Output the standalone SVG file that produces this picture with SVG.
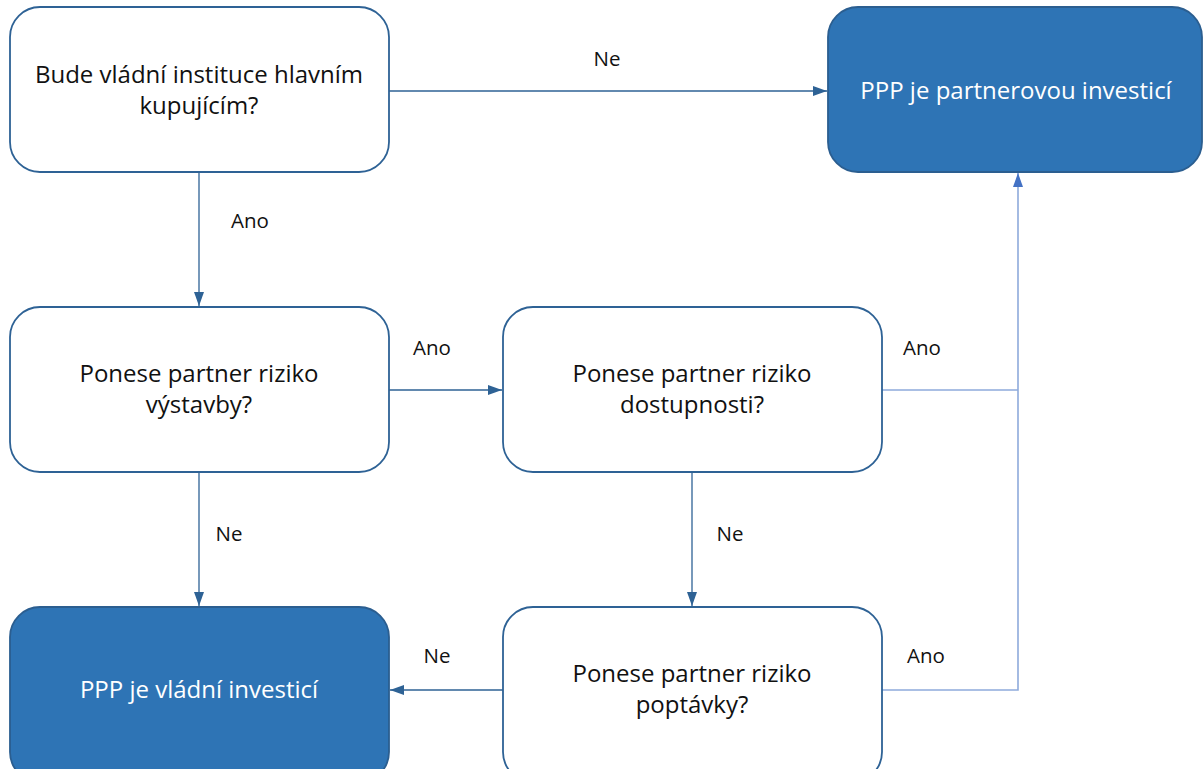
<svg xmlns="http://www.w3.org/2000/svg" width="1203" height="769" viewBox="0 0 1203 769">
<style>
.q{fill:#ffffff;stroke:#2e6295;stroke-width:1.8}
.r{fill:#2e74b5;stroke:#2b5e90;stroke-width:1.8}
.t{font-family:"Open Sans","Noto Sans",sans-serif;font-size:24px;fill:#111111;text-anchor:middle}
.w{font-family:"Open Sans","Noto Sans",sans-serif;font-size:24px;fill:#ffffff;text-anchor:middle}
.l{font-family:"Open Sans","Noto Sans",sans-serif;font-size:20.5px;fill:#111111;text-anchor:middle}
.c{fill:none;stroke:#2e6295;stroke-width:1.3}
.cl{fill:none;stroke:#8eaadb;stroke-width:1.6}
</style>
<defs>
<marker id="ad" viewBox="0 0 14 10" refX="14" refY="5" markerWidth="14" markerHeight="10" markerUnits="userSpaceOnUse" orient="auto">
<path d="M0,0 L14,5 L0,10 Z" fill="#2e6295"/>
</marker>
<marker id="al" viewBox="0 0 14 10" refX="14" refY="5" markerWidth="14" markerHeight="10" markerUnits="userSpaceOnUse" orient="auto">
<path d="M0,0 L14,5 L0,10 Z" fill="#4472c4"/>
</marker>
</defs>
<rect width="1203" height="769" fill="#ffffff"/>
<g id="connectors">
<path class="c" d="M389,91 H827" marker-end="url(#ad)"/>
<path class="c" d="M199,172 V306" marker-end="url(#ad)"/>
<path class="c" d="M389,390 H502" marker-end="url(#ad)"/>
<path class="cl" d="M882,390 H1018"/>
<path class="cl" d="M882,690 H1018 V173" marker-end="url(#al)"/>
<path class="c" d="M199,472 V606" marker-end="url(#ad)"/>
<path class="c" d="M692,472 V606" marker-end="url(#ad)"/>
<path class="c" d="M503,690 H390" marker-end="url(#ad)"/>
<text class="l" x="607" y="66">Ne</text>
<text class="l" x="250" y="228">Ano</text>
<text class="l" x="432" y="355">Ano</text>
<text class="l" x="922" y="355">Ano</text>
<text class="l" x="229" y="541">Ne</text>
<text class="l" x="730" y="541">Ne</text>
<text class="l" x="437" y="663">Ne</text>
<text class="l" x="926" y="663">Ano</text>
</g>
<g id="n1">
<rect class="q" x="10" y="7" width="379" height="165" rx="30"/>
<text class="t" x="199" y="83">Bude vládní instituce hlavním</text>
<text class="t" x="199" y="114">kupujícím?</text>
</g>
<g id="n2">
<rect class="r" x="828" y="7" width="374" height="165" rx="30"/>
<text class="w" x="1016" y="99">PPP je partnerovou investicí</text>
</g>
<g id="n3">
<rect class="q" x="10" y="307" width="379" height="165" rx="30"/>
<text class="t" x="199" y="382">Ponese partner riziko</text>
<text class="t" x="199" y="413">výstavby?</text>
</g>
<g id="n4">
<rect class="q" x="503" y="307" width="379" height="165" rx="30"/>
<text class="t" x="692" y="382">Ponese partner riziko</text>
<text class="t" x="692" y="413">dostupnosti?</text>
</g>
<g id="n5">
<rect class="r" x="10" y="607" width="379" height="175" rx="30"/>
<text class="w" x="199" y="698">PPP je vládní investicí</text>
</g>
<g id="n6">
<rect class="q" x="503" y="607" width="379" height="175" rx="30"/>
<text class="t" x="692" y="682">Ponese partner riziko</text>
<text class="t" x="692" y="713">poptávky?</text>
</g>
</svg>
